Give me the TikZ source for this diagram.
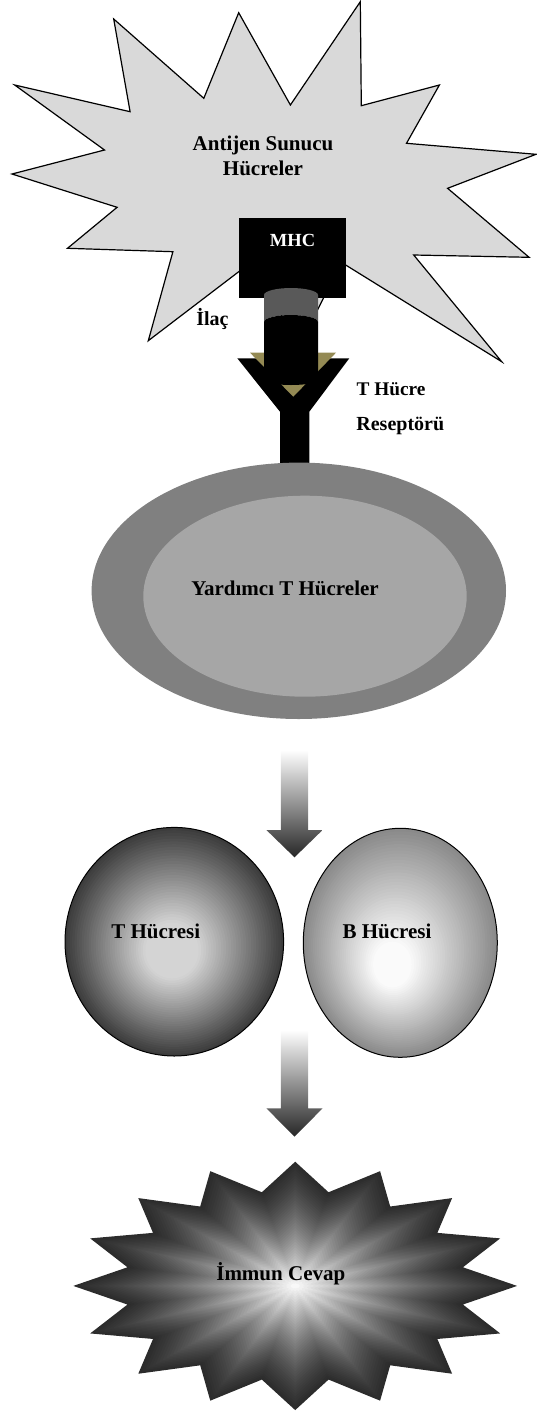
\documentclass[tikz,border=0pt]{standalone}
\usepackage{fontspec}
\setmainfont{Liberation Serif}
\definecolor{starfill}{HTML}{D9D9D9}
\definecolor{olivec}{HTML}{948A54}
\definecolor{cylgray}{HTML}{595959}
\definecolor{ellout}{HTML}{808080}
\definecolor{ellin}{HTML}{A6A6A6}
\definecolor{tdark}{HTML}{3C3C3C}
\definecolor{tlight}{HTML}{D4D4D4}
\definecolor{bdark}{HTML}{8A8A8A}
\definecolor{blight}{HTML}{FAFAFA}
\definecolor{sdark}{HTML}{2C2C2C}
\definecolor{arrdark}{HTML}{262626}
\tikzset{
  lbl/.style={font=\fontsize{21}{24}\selectfont\bfseries, inner sep=0pt, anchor=base},
  smalllbl/.style={font=\fontsize{20}{24}\selectfont\bfseries, inner sep=0pt, anchor=base},
  blockarrow/.style={top color=white, bottom color=arrdark, draw=none}
}
\begin{document}
\begin{tikzpicture}[x=1pt,y=-1pt]
\useasboundingbox (0,0) rectangle (537,1414);

% Antigen presenting cell (star)
\filldraw[fill=starfill, draw=black, line width=1.2pt, line join=miter]
 (113.7,19) -- (130.1,111.7) -- (14.7,85) -- (104.5,150) -- (12,174) -- (117.1,207.3)
 -- (67.5,248.3) -- (172.9,251.7) -- (148.3,340.7) -- (255,259.3) -- (297.5,350)
 -- (341.3,262.3) -- (501.7,361.7) -- (413.7,255) -- (529.1,257.3) -- (447.6,188.3)
 -- (536,154.3) -- (406.5,143.3) -- (439.4,85) -- (361.3,105.7) -- (360.3,1.7)
 -- (290.4,105) -- (238.7,12.7) -- (203.8,98.3) -- cycle;
\node[lbl] (apc1) at (263,150) {Antijen Sunucu};
\node[lbl] (apc2) at (263,175) {Hücreler};

% Y receptor
\fill[black] (237.3,358.3) -- (349.3,358.3) -- (309.3,411.7) -- (309.3,470)
 -- (280,470) -- (280,411.7) -- cycle;
\fill[olivec] (250,352.7) -- (336,352.7) -- (293.3,396.7) -- cycle;

% MHC box
\fill[black] (239.3,218.3) rectangle (346,298.3);
\node[font=\fontsize{18.5}{22}\selectfont\bfseries, text=white, inner sep=0pt, anchor=base] (mhc) at (292.5,246.5) {MHC};

% drug cylinder
\fill[cylgray] (264,295) arc[start angle=180,end angle=0,x radius=27pt,y radius=7pt]
 -- (318,322) arc[start angle=0,end angle=180,x radius=27pt,y radius=7pt] -- cycle;
\fill[black] (264,322) arc[start angle=180,end angle=0,x radius=27pt,y radius=7pt]
 -- (318,380) arc[start angle=0,end angle=-180,x radius=27pt,y radius=5pt] -- cycle;

\node[smalllbl] (ilac) at (212.5,325.5) {İlaç};
\node[font=\fontsize{19.3}{24}\selectfont\bfseries, inner sep=0pt, anchor=base] (tcr1) at (391,395) {T Hücre};
\node[smalllbl] (tcr2) at (400.3,430) {Reseptörü};

% Helper T cells
\fill[ellout] (298.8,590.8) ellipse[x radius=207.2pt, y radius=128.2pt];
\fill[ellin] (305,596.2) ellipse[x radius=161.7pt, y radius=100.5pt];
\node[lbl] (helper) at (285,595) {Yardımcı T Hücreler};

% arrow 1
\shade[blockarrow] (280.8,750) -- (308.2,750) -- (308.2,830) -- (322.6,830)
 -- (294.5,857.3) -- (266.4,830) -- (280.8,830) -- cycle;

% T cell
\foreach \i in {0,...,44}{
  \pgfmathsetmacro\t{\i/45}
  \pgfmathsetmacro\cx{174.3+\t*(171.2-174.3)}
  \pgfmathsetmacro\cy{941.7+\t*(953.3-941.7)}
  \pgfmathsetmacro\rx{109.3*(1-\t)}
  \pgfmathsetmacro\ry{114.3*(1-\t)}
  \pgfmathsetmacro\pc{100*min(1,\t/0.75)}
  \fill[tlight!\pc!tdark] (\cx,\cy) ellipse[x radius=\rx pt, y radius=\ry pt];
}
\draw[line width=1pt] (174.3,941.7) ellipse[x radius=109.3pt, y radius=114.3pt];
\node[lbl] (tcell) at (155.8,938.3) {T Hücresi};

% B cell
\foreach \i in {0,...,44}{
  \pgfmathsetmacro\t{\i/45}
  \pgfmathsetmacro\cx{400.3+\t*(390.4-400.3)}
  \pgfmathsetmacro\cy{942.8+\t*(970-942.8)}
  \pgfmathsetmacro\rx{97*(1-\t)}
  \pgfmathsetmacro\ry{114.5*(1-\t)}
  \pgfmathsetmacro\pc{100*min(1,\t/0.8)}
  \fill[blight!\pc!bdark] (\cx,\cy) ellipse[x radius=\rx pt, y radius=\ry pt];
}
\draw[line width=1pt] (400.3,942.8) ellipse[x radius=97pt, y radius=114.5pt];
\node[lbl] (bcell) at (387,938.3) {B Hücresi};

% arrow 2
\shade[blockarrow] (280.8,1030) -- (308.2,1030) -- (308.2,1108.3) -- (322.6,1108.3)
 -- (294.5,1136.7) -- (266.4,1108.3) -- (280.8,1108.3) -- cycle;

% immune response star
\foreach \i in {0,...,44}{
  \pgfmathsetmacro\t{\i/45}
  \pgfmathsetmacro\s{1-\t}
  \pgfmathsetmacro\pc{100*(0.5*\t+0.5*\t*\t)}
  \fill[white!\pc!sdark, shift={(295.2,1285.9)}, scale=\s]
    (0,-124.2) \foreach \k in {0,...,15}{
      -- ({171*sin(\k*22.5+11.25)},{-95.5*cos(\k*22.5+11.25)})
      -- ({221.9*sin((\k+1)*22.5)},{-124.2*cos((\k+1)*22.5)})
    } -- cycle;
}
\node[lbl] (immune) at (280.8,1280.7) {İmmun Cevap};
\end{tikzpicture}
\end{document}
